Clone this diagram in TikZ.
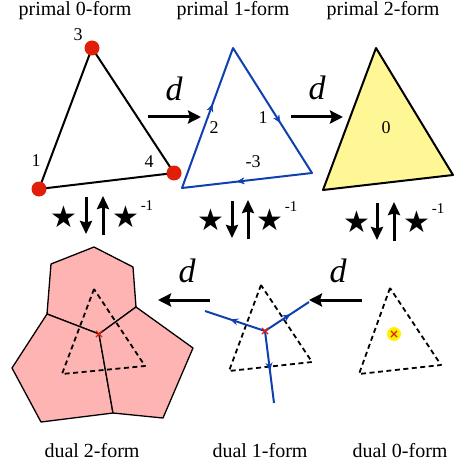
\documentclass[tikz,border=0pt]{standalone}
\usepackage{fontspec}
\setmainfont{Liberation Serif}
\newfontfamily\dejavu{DejaVu Sans}
\usetikzlibrary{arrows.meta,decorations.markings,shapes.misc}
\definecolor{dotred}{RGB}{225,30,10}
\definecolor{eblue}{RGB}{16,64,176}
\definecolor{triyellow}{RGB}{255,246,150}
\definecolor{cellpink}{RGB}{255,180,180}
\begin{document}
\begin{tikzpicture}[x=1pt,y=-1pt,
  title/.style={font=\fontsize{20}{22}\selectfont, inner sep=0},
  num/.style={font=\fontsize{18}{20}\selectfont, inner sep=0},
  dlabel/.style={font=\fontsize{34}{36}\selectfont\itshape, inner sep=0},
  darrow/.style={line width=3pt, -{Stealth[length=13pt,width=13pt,inset=2pt]}},
  sarrow/.style={line width=3pt, -{Stealth[length=13pt,width=12pt,inset=1.5pt]}},
  starsym/.style={font=\dejavu\fontsize{30}{32}\selectfont, inner sep=0},
  supone/.style={font=\fontsize{15}{16}\selectfont, inner sep=0},
  primaledge/.style={line width=2pt, line join=round},
  reddot/.style={circle, fill=dotred, minimum size=15pt, inner sep=0},
  blueedge/.style={eblue, line width=2pt, line join=round},
  midarrow/.style={postaction={decorate}, decoration={markings,
     mark=at position #1 with {\arrow{Stealth[length=8pt,width=7pt]}}}},
  dashtri/.style={line width=1.8pt, dash pattern=on 5pt off 3.5pt, line join=round},
  redx/.style={cross out, draw=dotred, line width=1.2pt, minimum size=5pt, inner sep=0},
  cell/.style={fill=cellpink, draw=black, line width=1.3pt, line join=round}
]
\useasboundingbox (0,0) rectangle (454,465);

% ---------- titles ----------
\node[title] (t1) at (75,11) {primal 0-form};
\node[title] (t2) at (233,11) {primal 1-form};
\node[title] (t3) at (383,11) {primal 2-form};
\node[title] (t4) at (92,451) {dual 2-form};
\node[title] (t5) at (260,451) {dual 1-form};
\node[title] (t6) at (400,451) {dual 0-form};

% ---------- primal 0-form ----------
\coordinate (a3) at (92,48);
\coordinate (a1) at (39,189);
\coordinate (a4) at (174,173);
\draw[primaledge] (a1) -- (a3) -- (a4) -- cycle;
\node[reddot] (p1) at (a1) {};
\node[reddot] (p3) at (a3) {};
\node[reddot] (p4) at (a4) {};
\node[num] (l3) at (78,35) {3};
\node[num] (l1) at (36,161) {1};
\node[num] (l4) at (149,162) {4};

% ---------- d arrows (top) ----------
\coordinate (da1s) at (148,117);
\coordinate (da1e) at (201,117);
\draw[darrow] (da1s) -- (da1e);
\node[dlabel] (d1) at (174,89) {d};
\coordinate (da2s) at (291,117);
\coordinate (da2e) at (343,117);
\draw[darrow] (da2s) -- (da2e);
\node[dlabel] (d2) at (317,88) {d};

% ---------- primal 1-form ----------
\coordinate (b1) at (182,188);
\coordinate (b2) at (233,48);
\coordinate (b3) at (312,173);
\draw[blueedge] (b1) -- (b2) -- (b3) -- cycle;
\path[midarrow=0.6, eblue] (b1) -- (b2);
\path[midarrow=0.6, eblue] (b2) -- (b3);
\path[midarrow=0.58, eblue] (b3) -- (b1);
\node[num] (e2) at (214,128) {2};
\node[num] (e1) at (263,118) {1};
\node[num] (e3) at (253,162) {-3};

% ---------- primal 2-form ----------
\coordinate (c1) at (323,190);
\coordinate (c2) at (376,48);
\coordinate (c3) at (453,175);
\draw[primaledge, fill=triyellow] (c1) -- (c2) -- (c3) -- cycle;
\node[num] (f0) at (386,128) {0};

% ---------- star rows ----------
\node[starsym] (s1a) at (64,217) {★};
\coordinate (g1a) at (86,197);
\coordinate (g1b) at (86,234);
\coordinate (g1c) at (103,235);
\coordinate (g1d) at (103,196);
\draw[sarrow] (g1a) -- (g1b);
\draw[sarrow] (g1c) -- (g1d);
\node[starsym] (s1b) at (126,217) {★};
\node[supone] (m1) at (147,206) {-1};

\node[starsym] (s2a) at (211,220) {★};
\coordinate (g2a) at (232,201);
\coordinate (g2b) at (232,238);
\coordinate (g2c) at (248,239);
\coordinate (g2d) at (248,200);
\draw[sarrow] (g2a) -- (g2b);
\draw[sarrow] (g2c) -- (g2d);
\node[starsym] (s2b) at (270,220) {★};
\node[supone] (m2) at (291,207) {-1};

\node[starsym] (s3a) at (357,222) {★};
\coordinate (g3a) at (377,203);
\coordinate (g3b) at (377,240);
\coordinate (g3c) at (394,241);
\coordinate (g3d) at (394,202);
\draw[sarrow] (g3a) -- (g3b);
\draw[sarrow] (g3c) -- (g3d);
\node[starsym] (s3b) at (417,222) {★};
\node[supone] (m3) at (438,209) {-1};

% ---------- d arrows (bottom) ----------
\coordinate (da3s) at (210,300);
\coordinate (da3e) at (158,300);
\draw[darrow] (da3s) -- (da3e);
\node[dlabel] (d3) at (187,271) {d};
\coordinate (da4s) at (362,300);
\coordinate (da4e) at (309,300);
\draw[darrow] (da4s) -- (da4e);
\node[dlabel] (d4) at (338,271) {d};

% ---------- dual 2-form ----------
\coordinate (o) at (99,334);
\coordinate (q1) at (47,314);
\coordinate (q2) at (136,307);
\coordinate (q3) at (113,413);
\draw[cell] (q1) -- (51,264) -- (94,247) -- (133,267) -- (q2) -- (o) -- cycle;
\draw[cell] (q1) -- (12,368) -- (41,422) -- (q3) -- (o) -- cycle;
\draw[cell] (q2) -- (193,348) -- (163,418) -- (q3) -- (o) -- cycle;
\coordinate (h1) at (94,289);
\coordinate (h2) at (62,374);
\coordinate (h3) at (145,366);
\draw[dashtri] (h1) -- (h2) -- (h3) -- cycle;
\node[redx] (x1) at (o) {};

% ---------- dual 1-form ----------
\coordinate (k1) at (261,285);
\coordinate (k2) at (229,371);
\coordinate (k3) at (312,362);
\draw[dashtri] (k1) -- (k2) -- (k3) -- cycle;
\coordinate (kc) at (265,331);
\coordinate (ke1) at (205,311);
\coordinate (ke2) at (309,302);
\coordinate (ke3) at (274,403);
\draw[blueedge, midarrow=0.58] (kc) -- (ke1);
\draw[blueedge, midarrow=0.58] (kc) -- (ke2);
\draw[blueedge, midarrow=0.55] (kc) -- (ke3);
\node[redx] (x2) at (kc) {};

% ---------- dual 0-form ----------
\coordinate (n1) at (390,288);
\coordinate (n2) at (359,374);
\coordinate (n3) at (441,365);
\draw[dashtri] (n1) -- (n2) -- (n3) -- cycle;
\node[circle, fill=yellow, minimum size=14pt, inner sep=0] (yc) at (394,334) {};
\node[redx] (x3) at (yc) {};
\end{tikzpicture}
\end{document}
